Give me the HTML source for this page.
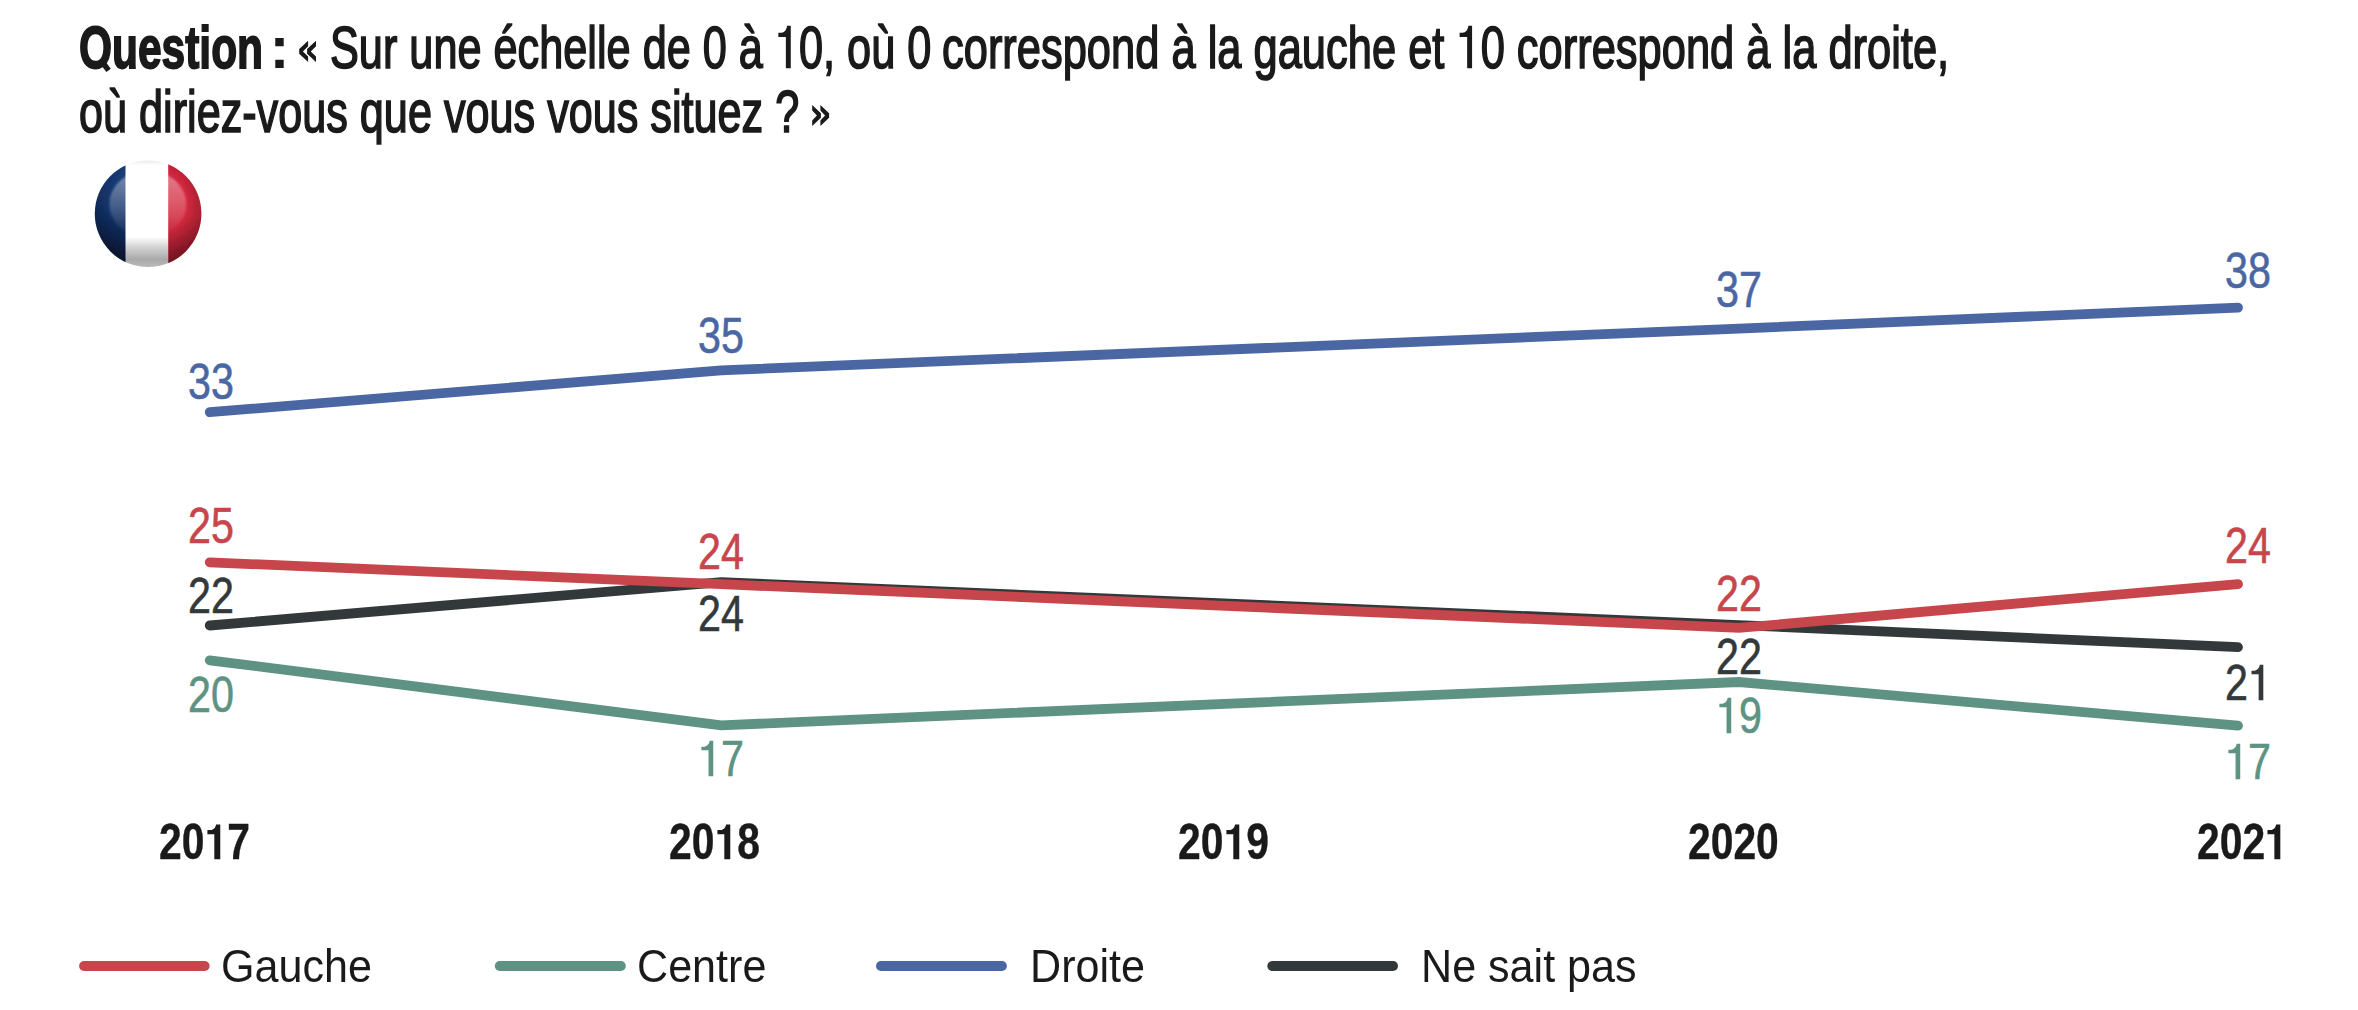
<!DOCTYPE html>
<html><head><meta charset="utf-8">
<style>
html,body{margin:0;padding:0;background:#fff;}
body{width:2358px;height:1010px;position:relative;overflow:hidden;font-family:"Liberation Sans",sans-serif;color:#1b1a1a;}
.t{position:absolute;white-space:nowrap;transform-origin:0 0;line-height:1;}
.title{font-size:60px;transform:scaleX(0.718);}
.lab{font-size:50px;-webkit-text-stroke:0.6px currentColor;transform:scaleX(0.825) translateX(-50%);}
.yr{font-size:50px;font-weight:bold;-webkit-text-stroke:0.4px #1b1a1a;transform:scaleX(0.8166);}
.leg{font-size:46px;transform:scaleX(0.937);}
#chart{position:absolute;left:0;top:0;}
.one{position:relative;-webkit-text-fill-color:transparent;-webkit-text-stroke-width:0;}
.one svg{position:absolute;left:0;top:0;width:0.5562em;height:1.1172em;overflow:visible;}
</style></head><body>
<svg id="chart" width="2358" height="1010" viewBox="0 0 2358 1010">
  <defs>
    <clipPath id="fc"><circle cx="148.1" cy="213.7" r="53.3"/></clipPath>
    <linearGradient id="gb" x1="0" y1="0" x2="0" y2="1">
      <stop offset="0" stop-color="#1d4080"/><stop offset="0.45" stop-color="#13336a"/><stop offset="1" stop-color="#081838"/>
    </linearGradient>
    <linearGradient id="gr" x1="0" y1="0" x2="0" y2="1">
      <stop offset="0" stop-color="#d0243f"/><stop offset="0.5" stop-color="#d4293d"/><stop offset="1" stop-color="#9a1a2c"/>
    </linearGradient>
    <linearGradient id="gw" x1="0" y1="0" x2="0" y2="1">
      <stop offset="0" stop-color="#e8e8e8"/><stop offset="0.05" stop-color="#ffffff"/><stop offset="0.71" stop-color="#ffffff"/>
      <stop offset="0.80" stop-color="#d6d6d6"/><stop offset="0.92" stop-color="#a9a9a9"/><stop offset="1" stop-color="#bcbcbc"/>
    </linearGradient>
    <radialGradient id="rim" gradientUnits="userSpaceOnUse" cx="148.1" cy="204" r="62">
      <stop offset="0.62" stop-color="#000" stop-opacity="0"/><stop offset="1" stop-color="#000" stop-opacity="0.32"/>
    </radialGradient>
    <linearGradient id="hl" x1="0" y1="0" x2="0" y2="1">
      <stop offset="0" stop-color="#fff" stop-opacity="0.42"/><stop offset="0.55" stop-color="#fff" stop-opacity="0.2"/><stop offset="1" stop-color="#fff" stop-opacity="0"/>
    </linearGradient>
    <filter id="bl" x="-20%" y="-20%" width="140%" height="140%"><feGaussianBlur stdDeviation="0.9"/></filter>
    <filter id="bl2" x="-20%" y="-20%" width="140%" height="140%"><feGaussianBlur stdDeviation="0.7"/></filter>
  </defs>
  <g filter="url(#bl2)">
  <g clip-path="url(#fc)">
    <rect x="94" y="160" width="31.8" height="108" fill="url(#gb)"/>
    <rect x="125.6" y="160" width="42.8" height="108" fill="url(#gw)"/>
    <rect x="168.2" y="160" width="35" height="108" fill="url(#gr)"/>
    <rect x="94" y="160" width="31.6" height="108" fill="url(#rim)"/>
    <rect x="168.4" y="160" width="35" height="108" fill="url(#rim)"/>
    <ellipse cx="147.8" cy="204" rx="38.5" ry="33.5" fill="url(#hl)" filter="url(#bl)"/>
  </g>
  </g>
  <g fill="#1b1a1a">
    <polygon points="100.8,64.7 105.2,61.3 110.8,68.7 106.4,72.1"/>
    <polygon points="308.1,40.8 308.1,46.3 302.9,51.45 308.1,56.6 308.1,62.1 299.2,53.8 299.2,49.1"/>
    <polygon points="316.0,40.8 316.0,46.3 310.8,51.45 316.0,56.6 316.0,62.1 307.1,53.8 307.1,49.1"/>
    <polygon points="812.2,104.9 820.9,113.3 820.9,117.7 812.2,126.1 812.2,120.4 816.9,115.5 812.2,110.6"/>
    <polygon points="820.4,104.9 829.1,113.3 829.1,117.7 820.4,126.1 820.4,120.4 825.1,115.5 820.4,110.6"/>
  </g>
  <g fill="none" stroke-width="9.8" stroke-linecap="round" stroke-linejoin="miter">
    <polyline stroke="#4a67a3" points="209.7,412.2 721.2,370.3 1739,328.6 2238,307.7"/>
    <polyline stroke="#5e9282" points="209.7,660.3 721.2,725.3 1739,682.0 2238,725.7"/>
    <polyline stroke="#33393b" points="209.7,625.5 721.2,582.1 1739,625.1 2238,647.2"/>
    <polyline stroke="#c6464c" points="209.7,562.3 721.2,584.2 1739,627.9 2238,584.1"/>
    <line x1="84.0" y1="966" x2="204.7" y2="966" stroke="#c6464c"/>
    <line x1="499.7" y1="966" x2="620.9" y2="966" stroke="#5e9282"/>
    <line x1="880.9" y1="966" x2="1002.0" y2="966" stroke="#4a67a3"/>
    <line x1="1272.2" y1="966" x2="1393.1" y2="966" stroke="#33393b"/>
  </g>
</svg>
<div class="t" style="font-size:60px;font-weight:bold;-webkit-text-stroke:1.8px #1b1a1a;left:78.98px;top:18.30px;transform:scaleX(0.7079)">Ouestion</div>
<div class="t" style="font-size:60px;font-weight:bold;left:269.5px;top:18.30px">:</div>
<div class="t" style="font-size:60px;-webkit-text-stroke:1.7px #1b1a1a;left:329.86px;top:18.30px;transform:scaleX(0.7210)">Sur une échelle de 0 à <span class="one">1<svg viewBox="0 0 1139 2288"><path fill="currentColor" d="M521 1854L753 1854L753 403L576 403C555 534 450 640 310 640L166 640L166 786L521 786Z"/></svg></span>0, où 0</div>
<div class="t" style="font-size:60px;-webkit-text-stroke:1.7px #1b1a1a;left:941.85px;top:18.30px;transform:scaleX(0.7241)">correspond à la gauche et <span class="one">1<svg viewBox="0 0 1139 2288"><path fill="currentColor" d="M521 1854L753 1854L753 403L576 403C555 534 450 640 310 640L166 640L166 786L521 786Z"/></svg></span>0 correspond à la droite,</div>
<div class="t" style="font-size:60px;-webkit-text-stroke:1.7px #1b1a1a;left:78.96px;top:81.80px;transform:scaleX(0.7198)">où diriez-vous que vous vous situez ?</div>
<div class="t lab" style="left:210.7px;top:356.87px;color:#4a67a3">33</div>
<div class="t lab" style="left:720.6px;top:310.76px;color:#4a67a3">35</div>
<div class="t lab" style="left:1738.5px;top:264.56px;color:#4a67a3">37</div>
<div class="t lab" style="left:2248px;top:245.86px;color:#4a67a3">38</div>
<div class="t lab" style="left:210.7px;top:500.77px;color:#c6464c">25</div>
<div class="t lab" style="left:720.6px;top:527.36px;color:#c6464c">24</div>
<div class="t lab" style="left:1738.5px;top:568.86px;color:#c6464c">22</div>
<div class="t lab" style="left:2248px;top:520.66px;color:#c6464c">24</div>
<div class="t lab" style="left:210.7px;top:570.86px;color:#33393b">22</div>
<div class="t lab" style="left:720.6px;top:589.26px;color:#33393b">24</div>
<div class="t lab" style="left:1738.5px;top:631.76px;color:#33393b">22</div>
<div class="t lab" style="left:2248px;top:658.36px;color:#33393b">2<span class="one">1<svg viewBox="0 0 1139 2288"><path fill="currentColor" d="M521 1854L753 1854L753 403L576 403C555 534 450 640 310 640L166 640L166 786L521 786Z"/></svg></span></div>
<div class="t lab" style="left:210.7px;top:669.76px;color:#5e9282">20</div>
<div class="t lab" style="left:720.6px;top:734.46px;color:#5e9282"><span class="one">1<svg viewBox="0 0 1139 2288"><path fill="currentColor" d="M521 1854L753 1854L753 403L576 403C555 534 450 640 310 640L166 640L166 786L521 786Z"/></svg></span>7</div>
<div class="t lab" style="left:1738.5px;top:691.16px;color:#5e9282"><span class="one">1<svg viewBox="0 0 1139 2288"><path fill="currentColor" d="M521 1854L753 1854L753 403L576 403C555 534 450 640 310 640L166 640L166 786L521 786Z"/></svg></span>9</div>
<div class="t lab" style="left:2248px;top:737.26px;color:#5e9282"><span class="one">1<svg viewBox="0 0 1139 2288"><path fill="currentColor" d="M521 1854L753 1854L753 403L576 403C555 534 450 640 310 640L166 640L166 786L521 786Z"/></svg></span>7</div>
<div class="t yr" style="left:158.58px;top:816.87px">20<span class="one">1<svg viewBox="0 0 1139 2288"><path fill="currentColor" d="M481 1854L780 1854L780 433L569 433C540 564 440 658 296 658L135 658L135 830L481 830Z"/></svg></span>7</div>
<div class="t yr" style="left:668.68px;top:816.87px">20<span class="one">1<svg viewBox="0 0 1139 2288"><path fill="currentColor" d="M481 1854L780 1854L780 433L569 433C540 564 440 658 296 658L135 658L135 830L481 830Z"/></svg></span>8</div>
<div class="t yr" style="left:1177.68px;top:816.87px">20<span class="one">1<svg viewBox="0 0 1139 2288"><path fill="currentColor" d="M481 1854L780 1854L780 433L569 433C540 564 440 658 296 658L135 658L135 830L481 830Z"/></svg></span>9</div>
<div class="t yr" style="left:1687.58px;top:816.87px">2020</div>
<div class="t yr" style="left:2196.78px;top:816.87px">202<span class="one">1<svg viewBox="0 0 1139 2288"><path fill="currentColor" d="M481 1854L780 1854L780 433L569 433C540 564 440 658 296 658L135 658L135 830L481 830Z"/></svg></span></div>
<div class="t leg" style="left:220.83px;top:943.05px">Gauche</div>
<div class="t leg" style="left:637.01px;top:943.05px">Centre</div>
<div class="t leg" style="left:1030.06px;top:943.05px">Droite</div>
<div class="t leg" style="left:1421.06px;top:943.05px">Ne sait pas</div>
</body></html>
